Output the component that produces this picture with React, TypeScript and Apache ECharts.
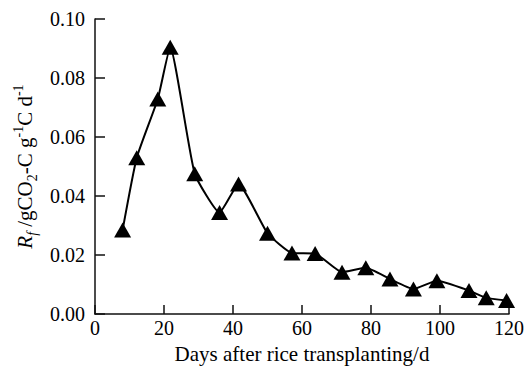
import React, { useEffect, useRef } from 'react';
import * as echarts from 'echarts';

const days = [8, 12.1, 18.2, 21.8, 28.9, 36.1, 41.6, 50, 57.1, 63.8, 71.6, 78.5, 85.5, 92.3, 99.1, 108.4, 113.4, 119.3];
const rf = [0.0285, 0.053, 0.0729, 0.0904, 0.0476, 0.0344, 0.0441, 0.0274, 0.0207, 0.0205, 0.0142, 0.0157, 0.0119, 0.0085, 0.0113, 0.008, 0.0055, 0.0046];
const xTicks = { min: 0, max: 120, interval: 20 };
const yTicks = { min: 0, max: 0.1, interval: 0.02 };
const xName = 'Days after rice transplanting/d';
const yName = '{ri|R}{sb|f}{n| /gCO}{s2|2}{n|-C g}{sp|-1}{n|C d}{sp|-1}';

const FONT = 'Liberation Serif';
const tickRich = { t: { fontFamily: FONT, fontSize: 20, color: '#000' } };

export default function App() {
  const ref = useRef<HTMLDivElement>(null);
  useEffect(() => {
    if (!ref.current) return;
    const chart = echarts.init(ref.current, null, { renderer: 'svg' });
    const axisLine = { show: true, lineStyle: { color: '#111', width: 1.5 } };
    chart.setOption({
      animation: false,
      backgroundColor: '#fff',
      textStyle: { fontFamily: FONT, color: '#000' },
      grid: { left: 95, right: 14, top: 19, bottom: 51, containLabel: false },
      xAxis: {
        type: 'value',
        min: xTicks.min,
        max: xTicks.max,
        interval: xTicks.interval,
        name: xName,
        nameLocation: 'middle',
        nameGap: 28,
        nameTextStyle: { fontFamily: FONT, fontSize: 21, color: '#000' },
        axisLine,
        axisTick: { show: true, inside: true, length: 9, lineStyle: { color: '#111', width: 1.5 } },
        axisLabel: {
          fontFamily: FONT, fontSize: 20, color: '#000', margin: 4,
          formatter: (v: number) => '{t|' + v + '}',
          rich: tickRich,
        },
        splitLine: { show: false },
      },
      yAxis: {
        type: 'value',
        min: yTicks.min,
        max: yTicks.max,
        interval: yTicks.interval,
        name: yName,
        nameLocation: 'middle',
        nameGap: 55,
        nameRotate: 90,
        nameTextStyle: {
          fontFamily: FONT,
          color: '#000',
          rich: {
            ri: { fontFamily: FONT, fontSize: 21, fontStyle: 'italic', color: '#000', lineHeight: 28, verticalAlign: 'middle' },
            sb: { fontFamily: FONT, fontSize: 14, fontStyle: 'italic', color: '#000', verticalAlign: 'bottom', lineHeight: 14 },
            n: { fontFamily: FONT, fontSize: 21, color: '#000', lineHeight: 28, verticalAlign: 'middle' },
            s2: { fontFamily: FONT, fontSize: 14, color: '#000', verticalAlign: 'bottom', lineHeight: 14 },
            sp: { fontFamily: FONT, fontSize: 14, color: '#000', verticalAlign: 'top', lineHeight: 14 },
          },
        },
        axisLine,
        axisTick: { show: true, inside: true, length: 10, lineStyle: { color: '#111', width: 1.5 } },
        axisLabel: {
          fontFamily: FONT,
          fontSize: 20,
          color: '#000',
          margin: 10,
          formatter: (v: number) => '{t|' + v.toFixed(2) + '}',
          rich: tickRich,
        },
        splitLine: { show: false },
      },
      series: [
        {
          type: 'line',
          data: days.map((d, i) => [d, rf[i]]),
          smooth: 0.15,
          symbol: 'triangle',
          symbolSize: [17, 15],
          itemStyle: { color: '#000' },
          lineStyle: { color: '#000', width: 2 },
          z: 3,
        },
      ],
    });
    return () => chart.dispose();
  }, []);
  return <div ref={ref} style={{ position: 'fixed', left: 0, top: 0, width: 527, height: 369 }} />;
}
